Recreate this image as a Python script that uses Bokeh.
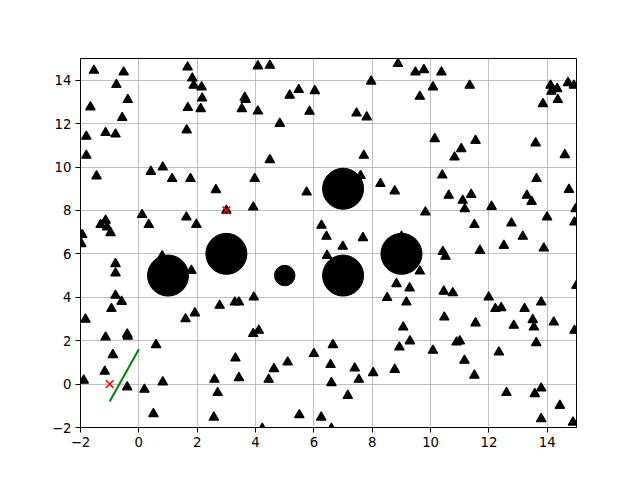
from bokeh.plotting import figure
from bokeh.models import Range1d, FixedTicker, ColumnDataSource
from bokeh.embed import file_html
from bokeh.resources import INLINE

# ---- data ----
tri_x = [-1.54, -0.52, 1.67, 1.83, 1.88, 2.15, 2.17, -0.77, -0.38, -1.66, 1.68, 2.12, -0.57, -1.14, -0.80, -1.80, 1.64, -1.80, -1.45, 0.41, 0.82, 1.14, 1.77,
         4.08, 4.49, 3.63, 3.66, 3.53, 4.08, 4.83, 5.17, 5.48, 6.03, 5.85, 4.49, 3.97,
         8.88, 9.48, 9.77, 10.37, 7.96, 10.08, 9.63, 7.46, 7.81, 10.14, 7.71, 10.82, 7.60, 10.40,
         11.34, 14.11, 14.14, 14.34, 14.71, 14.91, 13.85, 14.36, 11.54, 11.05, 13.60, 14.60, 13.63,
         -1.94, -1.97, -1.31, -1.14, -1.09, -0.97, 0.11, 0.34, 1.63, 1.97, -0.80, -0.80, 0.80, 1.80, -0.80, -0.59,
         2.64, 5.75, 3.00, 3.92, 6.26, 6.43, 6.45, 3.94,
         8.28, 8.77, 9.82, 10.62, 7.68, 6.99, 9.00, 10.42, 10.51, 9.63, 8.83, 9.28, 8.51, 9.17, 10.45, 10.76,
         14.74, 11.10, 11.39, 11.17, 13.30, 13.46, 12.09, 13.99, 14.97, 14.93, 11.50, 12.77, 13.16, 12.51, 11.69, 13.88, 11.99, 15.00,
         -0.94, -1.83, 1.60, 1.92, -1.14, -0.40, -0.38, 0.59, -0.89, -1.17, -1.89, -0.40, 0.19, 0.82, 0.50,
         2.77, 3.29, 3.43, 3.92, 4.11, 3.31, 2.59, 3.43, 2.70, 4.63, 4.45, 5.10, 6.00, 2.57, 5.50, 6.25, 4.23,
         10.47, 9.06, 9.29, 8.93, 10.08, 6.65, 6.57, 6.60, 7.40, 7.54, 8.03, 8.77, 7.16, 6.60,
         12.22, 12.42, 13.22, 13.79, 11.54, 12.85, 13.50, 13.54, 14.22, 14.93, 10.89, 11.00, 12.34, 13.62, 11.16, 11.50, 12.60, 13.57, 13.79, 14.43, 13.79, 14.88]
tri_y = [14.45, 14.37, 14.60, 14.09, 13.76, 13.68, 13.17, 13.79, 13.10, 12.76, 12.73, 12.68, 12.27, 11.58, 11.51, 11.41, 11.70, 10.53, 9.58, 9.79, 9.99, 9.46, 9.46,
         14.65, 14.68, 13.20, 13.10, 12.68, 12.57, 12.00, 13.30, 13.56, 13.51, 12.56, 10.33, 9.46,
         14.76, 14.37, 14.48, 14.37, 13.95, 13.68, 13.25, 12.48, 12.30, 11.30, 10.53, 10.45, 9.60, 9.62,
         13.76, 13.76, 13.48, 13.60, 13.88, 13.76, 12.91, 13.10, 11.22, 10.84, 11.10, 10.56, 9.46,
         6.88, 6.46, 7.34, 7.54, 7.23, 6.97, 7.80, 7.34, 7.69, 7.35, 5.54, 5.11, 5.90, 5.23, 4.08, 3.80,
         8.95, 8.84, 8.00, 8.15, 7.31, 6.80, 5.92, 4.00,
         9.23, 8.89, 7.92, 8.69, 6.74, 6.34, 6.80, 6.10, 5.88, 5.20, 4.62, 4.42, 3.98, 3.77, 4.27, 4.20,
         8.96, 8.46, 8.73, 8.07, 8.69, 8.41, 8.18, 7.69, 8.07, 7.46, 7.34, 7.41, 6.80, 6.38, 6.15, 6.26, 4.00, 4.54,
         3.47, 2.98, 3.00, 3.27, 2.16, 2.30, 2.20, 1.81, 1.35, 0.58, 0.17, -0.14, -0.25, 0.09, -1.37,
         3.62, 3.77, 3.77, 2.32, 2.47, 1.19, 0.21, 0.29, -0.40, 0.70, 0.21, 1.01, 1.40, -1.53, -1.42, -1.53, -2.05,
         3.08, 2.62, 1.98, 1.70, 1.55, 1.81, 0.89, 0.06, 0.73, 0.21, 0.52, 0.67, -0.53, -2.05,
         3.47, 3.51, 3.47, 3.77, 2.81, 2.70, 2.96, 2.62, 2.85, 2.47, 1.93, 1.98, 1.47, 1.90, 1.09, 0.40, -0.40, -0.45, -0.19, -0.99, -1.60, -1.76]

obs_x = [1, 3, 5, 7, 7, 9]
obs_y = [5, 6, 5, 5, 9, 6]
obs_r = [1.0, 1.0, 0.5, 1.0, 1.0, 1.0]

start_goal_x = [-1, 3]
start_goal_y = [0, 8]

path_x = [-1.0, 0.0]
path_y = [-0.8, 1.6]

ticks = [-2, 0, 2, 4, 6, 8, 10, 12, 14]
tick_labels = {t: (str(t).replace("-", "\u2212")) for t in ticks}

# ---- figure ----
p = figure(width=640, height=480, output_backend="svg", toolbar_location=None,
           x_range=Range1d(-2, 15), y_range=Range1d(-2, 15),
           min_border_left=80, min_border_right=64, min_border_top=58, min_border_bottom=53)
p.background_fill_color = "white"
p.border_fill_color = "white"
p.outline_line_color = "black"
p.outline_line_width = 1
p.outline_line_alpha = 1

for ax in (p.xaxis[0], p.yaxis[0]):
    ax.ticker = FixedTicker(ticks=ticks)
    ax.major_label_overrides = tick_labels
    ax.major_label_text_font = "DejaVu Sans"
    ax.major_label_text_font_size = "13.3px"
    ax.major_label_text_color = "black"
    ax.major_tick_out = 5
    ax.major_tick_in = 0
    ax.minor_tick_out = 0
    ax.minor_tick_in = 0
    ax.axis_line_color = "black"
    ax.major_tick_line_color = "black"
    ax.major_label_standoff = 4

p.xgrid.ticker = FixedTicker(ticks=ticks)
p.ygrid.ticker = FixedTicker(ticks=ticks)
p.grid.grid_line_color = "#b0b0b0"
p.grid.grid_line_alpha = 1
p.grid.grid_line_width = 0.8

tri_src = ColumnDataSource(dict(x=tri_x, y=tri_y))
p.scatter("x", "y", source=tri_src, marker="triangle", size=9.5,
          fill_color="black", line_color="black", line_width=1.2)

obs_src = ColumnDataSource(dict(x=obs_x, y=obs_y, s=[r * 41 for r in obs_r]))
p.scatter("x", "y", source=obs_src, marker="circle", size="s",
          fill_color="black", line_color="black", line_width=1)

p.line(path_x, path_y, line_color="#008000", line_width=2)

p.scatter(start_goal_x, start_goal_y, marker="x", size=11, line_color="#ff0000", line_width=1.5)

open("out.html", "w").write(file_html(p, INLINE))
